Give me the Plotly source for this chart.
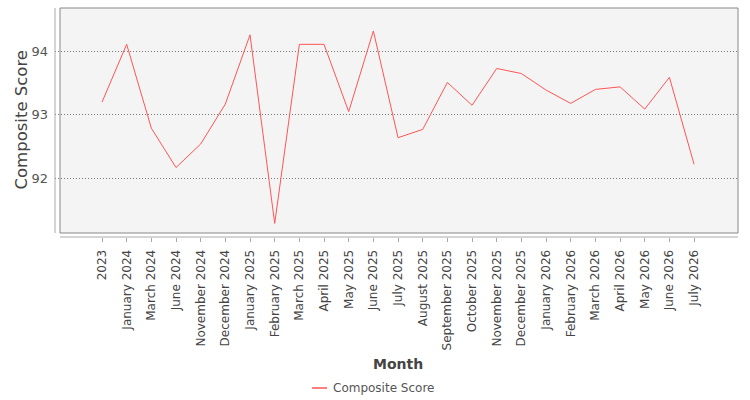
import plotly.graph_objects as go

months = ["2023", "January 2024", "March 2024", "June 2024", "November 2024", "December 2024",
          "January 2025", "February 2025", "March 2025", "April 2025", "May 2025", "June 2025",
          "July 2025", "August 2025", "September 2025", "October 2025", "November 2025",
          "December 2025", "January 2026", "February 2026", "March 2026", "April 2026",
          "May 2026", "June 2026", "July 2026"]
composite_score = [93.20, 94.11, 92.79, 92.17, 92.54, 93.17, 94.26, 91.29, 94.11, 94.11, 93.05,
                   94.32, 92.64, 92.77, 93.51, 93.15, 93.73, 93.65, 93.39, 93.18, 93.40, 93.44,
                   93.09, 93.59, 92.22]
series_name = "Composite Score"

FONT = "DejaVu Sans"
LINE_COLOR = "#ff5555"
W, H = 750, 400
L, R, T, B = 55, 12, 8, 163
PW, PH = W - L - R, H - T - B

def px_x(x):
    return (x - L) / PW

def px_y(y):
    return (H - B - y) / PH

fig = go.Figure()
fig.add_trace(go.Scatter(x=months, y=composite_score, mode="lines", name=series_name,
                         showlegend=False, line=dict(color=LINE_COLOR, width=1)))

# plot background box (offset from axes)
fig.add_shape(type="rect", xref="paper", yref="paper", x0=px_x(60), x1=1, y0=px_y(233), y1=1,
              fillcolor="#f4f4f4", line=dict(color="#888888", width=1), layer="below")
# axis lines
fig.add_shape(type="line", xref="paper", yref="paper", x0=0, x1=0, y0=px_y(233), y1=1,
              line=dict(color="#aaaaaa", width=1))
fig.add_shape(type="line", xref="paper", yref="paper", x0=px_x(60), x1=1, y0=0, y1=0,
              line=dict(color="#aaaaaa", width=1))

# legend (drawn manually for short line sample)
fig.add_shape(type="line", xref="paper", yref="paper", x0=px_x(312), x1=px_x(327),
              y0=px_y(388), y1=px_y(388), line=dict(color=LINE_COLOR, width=1.5))
fig.add_annotation(xref="paper", yref="paper", x=px_x(331), y=px_y(388), text=series_name,
                   showarrow=False, xanchor="left", yanchor="middle",
                   font=dict(family=FONT, size=12, color="#555555"))
# axis titles
fig.add_annotation(xref="paper", yref="paper", x=px_x(398), y=px_y(364), text="<b>Month</b>",
                   showarrow=False, xanchor="center", yanchor="middle",
                   font=dict(family=FONT, size=14, color="#444444"))
fig.add_annotation(xref="paper", yref="paper", x=px_x(20.5), y=px_y(120), text="Composite Score",
                   showarrow=False, xanchor="center", yanchor="middle", textangle=-90,
                   font=dict(family=FONT, size=16.5, color="#444444"))

fig.update_layout(
    width=W, height=H,
    margin=dict(l=L, r=R, t=T, b=B),
    paper_bgcolor="white", plot_bgcolor="rgba(0,0,0,0)",
    font=dict(family=FONT, color="#444444", size=12),
    showlegend=False,
    xaxis=dict(type="category", range=[-1.905, 25.78], showgrid=False, zeroline=False,
               automargin=False, tickangle=-90, ticks="outside", ticklen=4, tickcolor="#aaaaaa",
               ticklabelstandoff=3,
               tickfont=dict(size=12, color="#444444")),
    yaxis=dict(range=[91.076, 94.682], tickvals=[92, 93, 94], showgrid=True,
               gridcolor="#777777", griddash="1px,2px", gridwidth=1, zeroline=False,
               automargin=False, ticks="", ticklabelstandoff=6,
               tickfont=dict(size=13, color="#555555")),
)
fig.write_html("out.html")
